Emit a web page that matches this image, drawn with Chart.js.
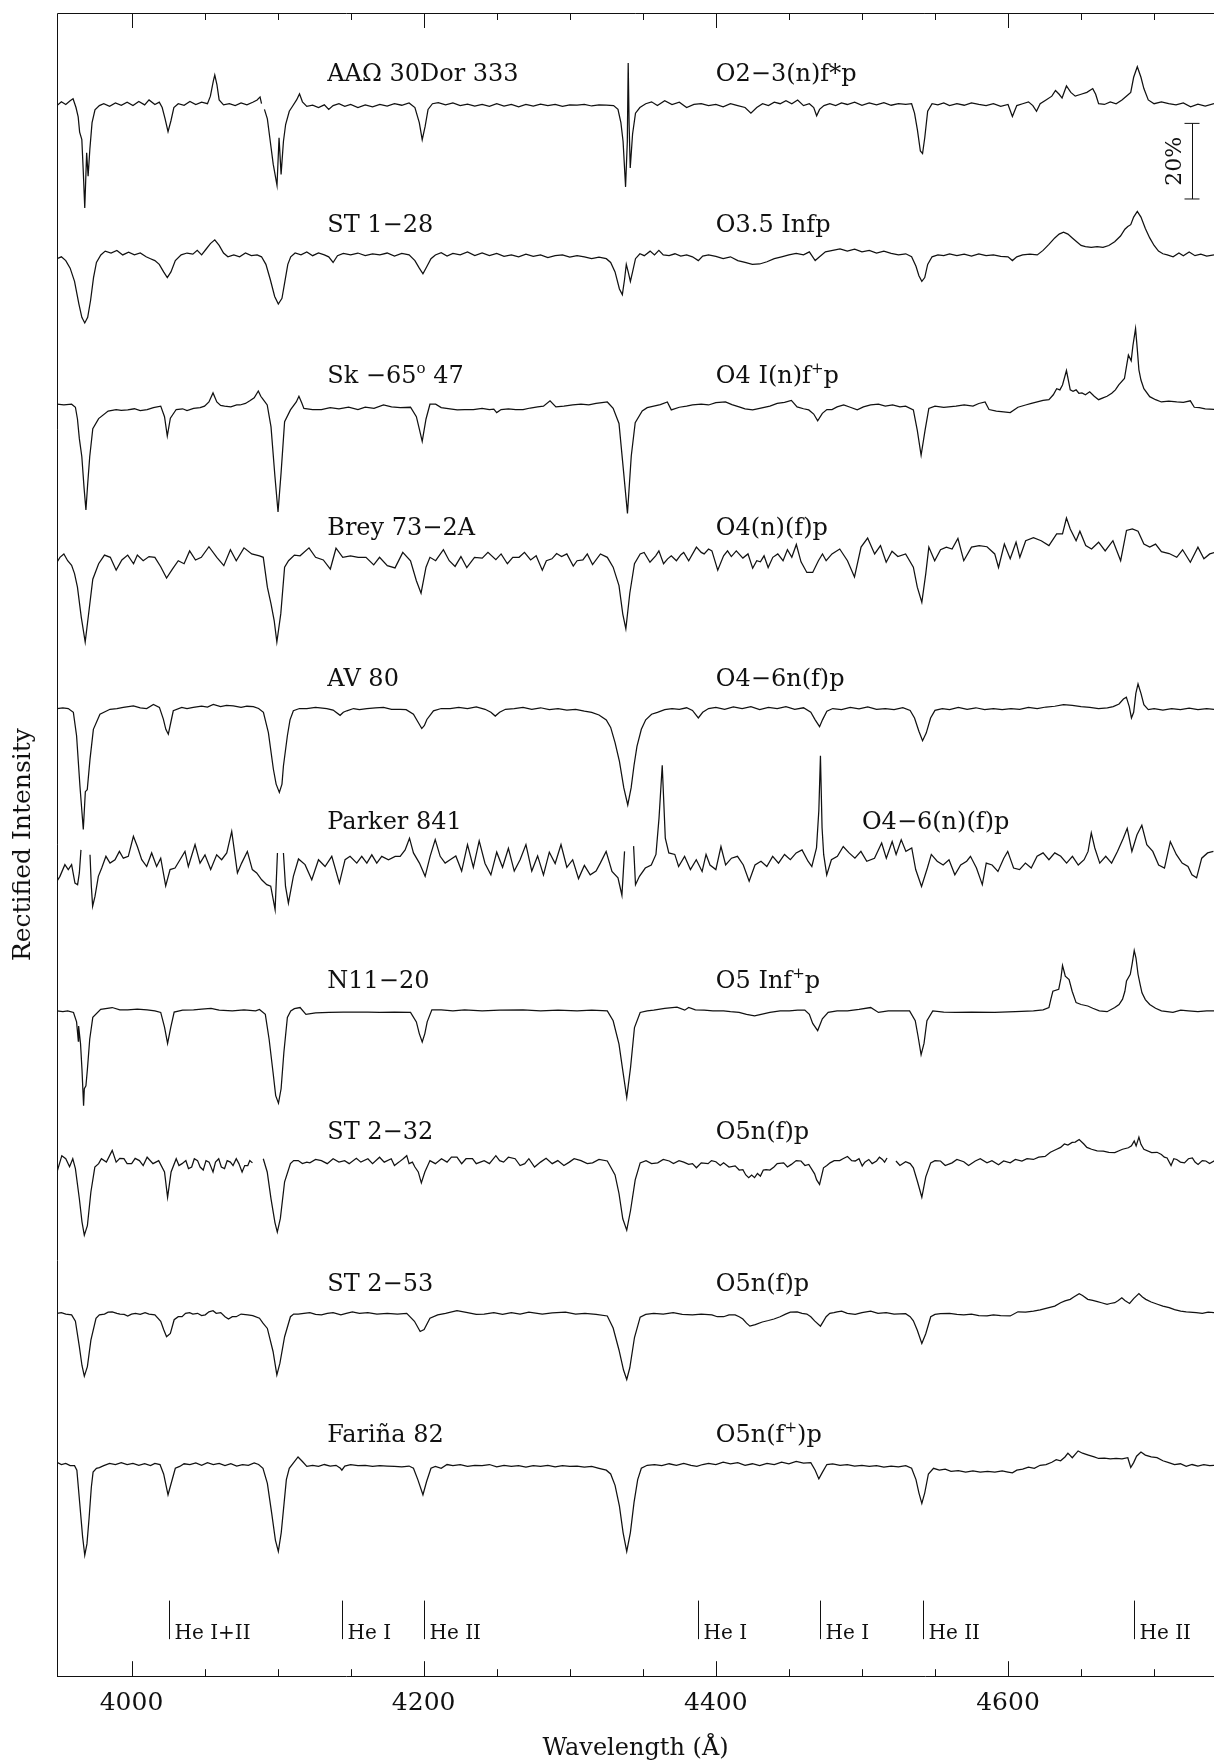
<!DOCTYPE html>
<html>
<head>
<meta charset="utf-8">
<script src="https://cdn.jsdelivr.net/npm/chart.js@4.4.1/dist/chart.umd.min.js"></script>
<style>
  html, body { margin: 0; padding: 0; background: #fff; overflow: hidden; }
  canvas { display: block; }
</style>
</head>
<body>
<canvas id="chart" width="1214" height="1763"></canvas>
<script>
// rectified spectra: flat lists of wavelength (A), flux; null = gap in the data
const aao333 = [3949,0.995, 3952,1.005, 3955,0.998, 3958,1.008, 3960,1.013, 3962,0.99, 3963.5,0.965, 3964.5,0.925, 3966,0.905, 3967,0.82, 3968,0.724, 3969.3,0.87, 3970.3,0.808, 3971.5,0.88, 3973,0.95, 3975,0.984, 3978,0.995, 3981,1.0, 3985,0.993, 3989,1.002, 3993,0.996, 3997,1.004, 4001,0.995, 4005,1.006, 4009,0.997, 4012,1.01, 4016,0.998, 4019,1.004, 4021,0.99, 4023,0.96, 4025,0.926, 4027,0.955, 4029,0.99, 4032,1.0, 4036,0.996, 4040,1.006, 4044,0.998, 4048,1.004, 4052,1.0, 4054,1.02, 4056,1.06, 4057,1.076, 4058.5,1.05, 4060,1.01, 4063,0.997, 4067,1.0, 4071,0.995, 4075,1.002, 4079,0.997, 4083,1.004, 4086,1.01, 4088,1.018, 4089,1.0, 4090,null, 4091,0.985, 4093,0.96, 4095,0.9, 4097,0.84, 4099.6,0.784, 4101,0.91, 4102.4,0.813, 4104,0.9, 4105.5,0.945, 4108,0.98, 4110,0.992, 4113,1.01, 4115,1.026, 4117,1.005, 4120,0.993, 4124,0.996, 4128,0.99, 4132,0.997, 4135,0.985, 4138,0.995, 4142,1.0, 4146,0.993, 4150,0.998, 4155,0.99, 4160,0.997, 4165,0.992, 4170,0.998, 4175,0.994, 4180,1.0, 4185,0.996, 4190,1.002, 4194,0.99, 4197,0.95, 4199,0.905, 4201,0.94, 4203,0.985, 4206,1.0, 4210,1.003, 4215,0.997, 4220,1.002, 4225,0.995, 4230,0.999, 4235,0.994, 4240,0.998, 4245,0.993, 4250,1.0, 4255,0.994, 4260,0.998, 4265,0.992, 4270,0.998, 4275,0.994, 4280,0.999, 4285,0.995, 4290,0.998, 4295,0.993, 4300,0.997, 4305,0.996, 4310,0.998, 4315,0.994, 4320,0.997, 4325,0.996, 4330,0.995, 4333,0.985, 4335,0.95, 4336.5,0.9, 4338.2,0.78, 4339.4,0.9, 4340,1.108, 4340.6,0.95, 4341.4,0.83, 4343,0.92, 4345,0.975, 4348,0.99, 4352,1.0, 4356,1.005, 4360,0.995, 4365,1.008, 4370,0.998, 4375,1.004, 4380,0.99, 4385,0.998, 4390,1.0, 4395,0.995, 4400,0.998, 4405,0.992, 4410,1.0, 4415,0.995, 4420,0.99, 4424,0.975, 4428,0.99, 4432,1.0, 4436,0.995, 4440,1.004, 4444,1.0, 4448,1.008, 4452,1.0, 4456,1.01, 4460,0.995, 4464,1.0, 4467,0.99, 4469,0.968, 4471,0.985, 4474,0.995, 4478,1.0, 4482,0.995, 4486,1.002, 4490,0.998, 4495,1.004, 4500,0.996, 4505,1.002, 4510,0.997, 4515,1.003, 4520,0.996, 4525,1.0, 4530,0.998, 4534,1.0, 4536,0.975, 4538,0.93, 4540,0.875, 4541.5,0.868, 4543,0.91, 4545,0.98, 4548,1.0, 4552,0.997, 4556,1.002, 4560,0.995, 4565,1.0, 4570,0.996, 4575,1.002, 4580,0.998, 4585,0.995, 4590,1.0, 4595,0.993, 4600,0.998, 4603,0.966, 4606,0.995, 4610,1.0, 4614,1.005, 4617,0.995, 4619.5,0.98, 4622,1.0, 4626,1.01, 4630,1.02, 4632.5,1.035, 4635,1.025, 4637,1.015, 4640,1.047, 4643,1.03, 4646,1.02, 4650,1.025, 4654,1.03, 4658,1.04, 4660,1.025, 4662,1.0, 4666,0.998, 4670,1.005, 4674,1.0, 4678,1.01, 4681,1.02, 4684,1.03, 4686,1.07, 4688.5,1.098, 4691,1.07, 4693,1.04, 4696,1.01, 4700,1.0, 4705,1.005, 4710,1.0, 4715,0.997, 4720,1.002, 4725,0.992, 4730,0.999, 4735,0.994, 4741,1.0];

const st128 = [3949,0.99, 3952,0.995, 3955,0.985, 3958,0.965, 3961,0.93, 3964,0.87, 3966,0.835, 3968,0.82, 3970,0.835, 3972,0.88, 3974,0.94, 3976,0.98, 3979,1.0, 3982,1.01, 3986,1.005, 3990,1.012, 3994,1.0, 3998,1.007, 4002,1.0, 4006,1.005, 4010,0.995, 4013,0.99, 4016,0.985, 4019,0.975, 4022,0.955, 4024.5,0.94, 4027,0.955, 4030,0.985, 4034,1.0, 4038,1.005, 4042,1.002, 4045,1.012, 4048,1.0, 4051,1.015, 4054,1.03, 4057,1.04, 4060,1.025, 4063,1.005, 4066,0.995, 4070,1.0, 4074,0.995, 4078,1.005, 4082,0.998, 4086,1.0, 4089,0.995, 4092,0.975, 4095,0.935, 4098,0.89, 4100.5,0.87, 4103,0.885, 4105,0.93, 4107,0.975, 4109,0.995, 4112,1.005, 4116,1.0, 4120,1.008, 4124,0.998, 4128,1.005, 4132,1.0, 4135,0.995, 4138,0.98, 4141,0.998, 4145,1.004, 4150,1.0, 4155,1.005, 4160,0.998, 4165,1.003, 4170,1.0, 4175,1.005, 4180,0.997, 4185,1.004, 4190,1.0, 4194,0.985, 4197,0.965, 4199.5,0.95, 4202,0.968, 4205,0.99, 4208,1.0, 4212,1.006, 4216,0.997, 4220,1.004, 4225,1.0, 4230,1.008, 4235,0.998, 4240,1.005, 4245,0.998, 4250,1.004, 4255,0.996, 4260,1.0, 4265,0.995, 4270,1.002, 4275,0.996, 4280,1.0, 4285,0.993, 4290,0.998, 4295,1.0, 4300,0.994, 4305,0.998, 4310,0.995, 4315,0.99, 4320,0.994, 4325,0.99, 4328,0.98, 4331,0.955, 4334,0.91, 4336,0.895, 4337.5,0.935, 4338.7,0.975, 4340,0.955, 4341.5,0.93, 4343,0.955, 4345,0.99, 4348,1.003, 4351,0.998, 4355,1.01, 4358,1.0, 4361,1.012, 4364,1.0, 4368,0.998, 4372,1.003, 4376,0.997, 4380,1.0, 4384,0.995, 4388,0.985, 4391,0.997, 4395,1.0, 4400,0.996, 4405,0.99, 4410,0.995, 4415,0.985, 4420,0.98, 4425,0.975, 4430,0.976, 4435,0.982, 4440,0.99, 4445,0.995, 4450,1.0, 4455,1.004, 4460,1.0, 4464,1.008, 4468,0.985, 4471,0.995, 4475,1.008, 4480,1.012, 4485,1.016, 4490,1.01, 4495,1.015, 4500,1.008, 4505,1.012, 4510,1.005, 4515,1.01, 4520,1.004, 4525,1.0, 4530,1.003, 4534,0.995, 4537,0.97, 4539,0.945, 4541,0.93, 4543,0.94, 4545,0.975, 4548,0.995, 4552,1.0, 4556,0.998, 4560,1.003, 4565,0.998, 4570,1.002, 4575,0.997, 4580,1.003, 4585,0.998, 4590,1.0, 4595,0.996, 4600,0.995, 4603,0.985, 4606,0.995, 4610,1.0, 4615,1.002, 4620,1.0, 4624,1.012, 4628,1.028, 4632,1.045, 4635,1.055, 4638,1.06, 4641,1.055, 4644,1.045, 4647,1.035, 4650,1.025, 4653,1.022, 4657,1.02, 4661,1.022, 4665,1.02, 4669,1.025, 4673,1.035, 4677,1.05, 4680,1.068, 4682,1.075, 4684,1.08, 4686,1.1, 4688.5,1.115, 4691,1.1, 4694,1.07, 4697,1.045, 4700,1.025, 4703,1.01, 4706,1.003, 4709,1.0, 4713,0.995, 4717,1.005, 4720,0.998, 4724,1.008, 4728,0.998, 4732,1.002, 4736,0.997, 4741,1.0];

const sk6547 = [3949,1.005, 3953.7,1.003, 3959,1.005, 3961.6,0.997, 3963,0.966, 3964.3,0.914, 3966,0.866, 3967.5,0.785, 3968.8,0.725, 3970,0.794, 3971.4,0.866, 3973.5,0.94, 3977.5,0.967, 3984,0.987, 3989.5,0.991, 3993,0.989, 3997.4,0.99, 4002,0.993, 4006,0.988, 4010.7,0.991, 4015,0.996, 4020,1.0, 4022.6,0.972, 4024.5,0.921, 4026.6,0.968, 4030.6,0.991, 4035,0.993, 4038,0.988, 4042.5,0.994, 4047,0.996, 4050,1.0, 4053,1.011, 4055.8,1.035, 4058.4,1.011, 4061,1.002, 4063.7,1.0, 4068,0.998, 4072,1.003, 4074.3,1.003, 4078,1.007, 4081,1.014, 4084,1.022, 4086.8,1.04, 4088.5,1.026, 4090.2,1.017, 4092.9,1.003, 4095.5,0.945, 4098.2,0.813, 4100.3,0.72, 4102.4,0.824, 4104.8,0.959, 4108.8,0.99, 4112.8,1.011, 4114.6,1.026, 4116.5,1.009, 4118,0.994, 4124,0.991, 4130,0.991, 4136,0.996, 4142,0.993, 4148.6,0.997, 4155,0.991, 4160,0.997, 4166,0.994, 4172.5,1.003, 4178,0.998, 4184,0.996, 4191,0.997, 4195,0.972, 4197,0.94, 4199,0.907, 4201.6,0.966, 4204.3,1.005, 4208.2,1.005, 4212,0.996, 4218,0.993, 4223,0.99, 4228,0.991, 4234,0.991, 4240,0.994, 4245,0.991, 4248,0.992, 4250,0.983, 4253,0.991, 4258,0.993, 4263,0.991, 4268,0.991, 4273,0.995, 4278,0.998, 4282,1.0, 4286.5,1.014, 4290.5,0.998, 4296,1.0, 4302,1.003, 4307.7,1.005, 4313,1.003, 4318,1.007, 4322,1.009, 4325.7,1.011, 4329.7,0.994, 4333.7,0.954, 4336.8,0.828, 4339.5,0.716, 4342.1,0.868, 4344.8,0.956, 4349.6,0.987, 4353,0.996, 4357.5,1.0, 4362,1.004, 4366.8,1.011, 4369.5,0.99, 4375,0.997, 4380,1.0, 4384,1.003, 4390,1.005, 4395,1.003, 4400,1.009, 4406.6,1.011, 4411,1.004, 4415.9,0.998, 4420,0.993, 4425.2,0.99, 4430,0.994, 4437,1.0, 4442,1.007, 4447,1.01, 4451.7,1.015, 4455.6,0.998, 4460,0.993, 4463.6,0.99, 4467,0.979, 4469.7,0.961, 4472.9,0.981, 4476,0.991, 4479.5,0.991, 4483,0.998, 4487.5,1.003, 4492,0.997, 4496.8,0.99, 4501,0.998, 4506,1.003, 4511.3,1.005, 4516,1.0, 4521,1.003, 4526,0.998, 4529.9,1.0, 4535.2,0.99, 4537.9,0.936, 4540.5,0.87, 4543.2,0.936, 4545.8,0.994, 4550,1.0, 4556,0.997, 4564.4,1.0, 4570,1.003, 4576,1.0, 4580,1.007, 4584.3,1.011, 4587,0.991, 4592,0.987, 4597,0.985, 4601.5,0.983, 4606.8,0.997, 4612,1.003, 4616,1.007, 4620,1.011, 4624,1.015, 4628,1.017, 4631,1.03, 4633.3,1.046, 4635.5,1.043, 4637.3,1.056, 4640,1.094, 4642.6,1.043, 4644.5,1.039, 4646.6,1.043, 4648.5,1.034, 4650.6,1.035, 4653,1.03, 4655.9,1.038, 4659,1.026, 4662,1.017, 4665,1.022, 4667.8,1.026, 4671,1.034, 4673.5,1.043, 4675.8,1.056, 4679.7,1.073, 4681,1.103, 4682.4,1.135, 4684.3,1.12, 4685.5,1.16, 4687.3,1.205, 4688.5,1.15, 4689.6,1.096, 4691,1.069, 4693,1.046, 4697,1.025, 4701,1.017, 4705,1.011, 4710,1.013, 4715.5,1.011, 4720,1.01, 4724.8,1.014, 4727.5,0.997, 4731,0.996, 4735,0.993, 4741.5,0.991];

const brey73 = [3949,0.987, 3951,1.0, 3953.7,1.009, 3956.3,0.991, 3959,0.979, 3961,0.957, 3963,0.921, 3965.6,0.842, 3968.3,0.776, 3971,0.862, 3973.5,0.942, 3977.5,0.983, 3981.5,1.006, 3985.5,1.0, 3989.5,0.966, 3993.4,0.993, 3997.4,1.006, 4001.4,0.983, 4004,1.006, 4008,0.991, 4012,1.002, 4016,1.0, 4020,0.975, 4024,0.945, 4028,0.969, 4032,0.991, 4036,0.983, 4039.8,1.017, 4043.8,0.993, 4047.8,1.0, 4053,1.028, 4058.4,1.0, 4063.2,0.978, 4067.7,1.02, 4071.7,0.991, 4077,1.025, 4082.3,1.009, 4087.6,1.004, 4090.2,1.0, 4093,0.921, 4095.5,0.877, 4097.7,0.832, 4099.5,0.776, 4102.2,0.851, 4104.8,0.974, 4107.5,0.991, 4111.5,1.006, 4115.4,1.004, 4121.5,1.025, 4126,1.0, 4131.3,0.993, 4136.1,0.969, 4140,1.024, 4144.6,1.0, 4149.9,1.004, 4155.2,1.0, 4160.5,1.0, 4165.8,0.98, 4169.8,1.0, 4175.1,0.978, 4180.4,0.972, 4185.7,1.013, 4191,0.991, 4195,0.938, 4198.2,0.905, 4201.6,0.974, 4204.3,1.0, 4208.2,0.991, 4213.5,1.02, 4217.5,0.991, 4221.5,0.976, 4225.5,1.002, 4229.5,0.973, 4234.8,1.0, 4240.1,0.998, 4244,1.013, 4249.4,0.994, 4253,1.009, 4257.3,0.983, 4261,1.0, 4265.3,1.0, 4269,1.013, 4273.2,0.993, 4277,1.004, 4281.2,0.966, 4284,0.991, 4287.8,0.996, 4291,1.01, 4294.4,1.002, 4298,1.009, 4302.4,0.977, 4305,0.991, 4309,0.993, 4312,1.009, 4315.6,0.981, 4321,1.009, 4325.7,1.0, 4329.7,0.974, 4333.7,0.925, 4336.3,0.85, 4338.4,0.811, 4341.1,0.905, 4344.3,0.983, 4348.2,1.009, 4350.9,1.013, 4354.9,0.987, 4358.8,1.004, 4361,1.017, 4364.2,0.983, 4367,0.996, 4369.5,1.004, 4373,0.991, 4376.1,1.007, 4378,1.013, 4381.4,0.991, 4386.7,1.027, 4390,1.013, 4392,1.009, 4395,1.022, 4397.3,1.017, 4401.3,0.966, 4405.3,1.004, 4408,1.017, 4410.6,1.002, 4414,1.017, 4418.5,0.998, 4422,1.009, 4425.2,0.971, 4428,0.991, 4430.5,0.988, 4433,1.004, 4435.8,0.973, 4439,1.0, 4442.4,1.009, 4446,0.991, 4449,1.02, 4452,1.0, 4455.1,1.034, 4458.3,0.988, 4462.3,0.96, 4466.3,0.96, 4470.2,0.991, 4473,1.009, 4475.5,0.991, 4479.5,1.009, 4484.8,1.022, 4490.1,0.991, 4494.9,0.948, 4499.4,1.027, 4503.9,1.051, 4508.7,1.009, 4512.7,1.031, 4516.6,0.987, 4520.6,1.016, 4524.6,1.002, 4529.9,1.009, 4535.2,0.974, 4537.9,0.921, 4541,0.881, 4543.7,0.957, 4545.8,1.027, 4549.8,0.991, 4553.8,1.02, 4557.8,1.027, 4561.7,1.022, 4565.7,1.05, 4569.7,0.991, 4575,1.027, 4580.3,1.031, 4585.6,1.028, 4590.9,1.009, 4593.5,0.973, 4597.5,1.035, 4601.5,0.996, 4605.5,1.04, 4608.1,1.0, 4612.1,1.044, 4617.4,1.052, 4622.7,1.044, 4628,1.031, 4633.3,1.062, 4637.3,1.062, 4640,1.104, 4642.6,1.075, 4646.6,1.044, 4649.2,1.069, 4653.2,1.031, 4657.2,1.022, 4662,1.04, 4666.5,1.017, 4671.8,1.044, 4677.1,0.991, 4681.1,1.071, 4685.1,1.075, 4689,1.069, 4693,1.035, 4697,1.027, 4701,1.035, 4705,1.015, 4710.3,1.01, 4715.5,1.0, 4719.5,1.02, 4724.8,0.987, 4730,1.027, 4734.1,0.996, 4738.1,1.009, 4741.5,1.013];

const av80 = [3949,1.0, 3953,1.002, 3956.7,1.0, 3960.2,0.99, 3962.4,0.928, 3964.7,0.795, 3966.1,0.725, 3967,0.68, 3968.4,0.78, 3969.7,0.785, 3971.6,0.866, 3973.9,0.945, 3978.4,0.985, 3985.3,0.998, 3990,1.0, 3994.4,1.003, 4001.3,1.007, 4006,1.002, 4010.4,1.0, 4015,1.011, 4019.1,1.003, 4021.8,0.972, 4023.5,0.945, 4025.2,0.932, 4027,0.965, 4028.6,0.994, 4034.4,1.003, 4038,1.0, 4042.3,1.003, 4048,1.006, 4052,1.004, 4056,1.011, 4061,1.005, 4065,1.008, 4069.7,1.007, 4075,1.003, 4079,1.006, 4083.4,1.005, 4087,1.0, 4090.3,0.99, 4093.7,0.936, 4097.1,0.84, 4099,0.8, 4101.2,0.778, 4103,0.8, 4104,0.848, 4106.7,0.928, 4108.5,0.97, 4110.8,0.994, 4115,1.0, 4120,1.0, 4126,1.003, 4133.7,1.0, 4138,0.996, 4142.8,0.982, 4145,0.99, 4147.4,0.994, 4152,1.0, 4156,0.997, 4161.1,1.0, 4167,1.002, 4172.5,1.003, 4178,0.998, 4183.9,0.998, 4188,0.997, 4193,0.985, 4196,0.965, 4198.7,0.947, 4200.5,0.955, 4202.2,0.971, 4206.7,0.994, 4212,1.0, 4218.1,1.0, 4224,1.003, 4230,1.0, 4236,1.004, 4242,0.998, 4246,0.99, 4249,0.98, 4252,0.99, 4256,0.998, 4262,1.0, 4268,1.003, 4274,0.998, 4280,1.002, 4286,0.997, 4292,1.0, 4298,0.996, 4304,0.998, 4310,0.993, 4315,0.99, 4320,0.983, 4325,0.97, 4328,0.95, 4331,0.91, 4334,0.86, 4337,0.79, 4339.7,0.745, 4342,0.79, 4344,0.85, 4346,0.9, 4349,0.945, 4352,0.97, 4356,0.985, 4360,0.99, 4365,0.997, 4370,1.0, 4375,0.998, 4380,1.002, 4384,0.995, 4388,0.975, 4391,0.99, 4395,1.0, 4400,1.003, 4406,0.998, 4412,1.004, 4418,1.0, 4424,1.005, 4430,0.997, 4436,1.003, 4442,1.0, 4448,1.005, 4454,0.998, 4460,1.002, 4465,0.99, 4468,0.97, 4471,0.952, 4473,0.97, 4476,0.993, 4480,1.0, 4486,0.997, 4492,1.003, 4498,0.999, 4504,1.004, 4510,0.998, 4516,1.0, 4522,0.997, 4528,1.002, 4533,0.995, 4536,0.975, 4539,0.94, 4541.5,0.915, 4544,0.935, 4547,0.975, 4550,0.995, 4555,1.0, 4560,0.997, 4566,1.003, 4572,0.998, 4578,1.002, 4584,0.997, 4590,1.0, 4596,0.997, 4602,1.0, 4608,0.998, 4614,1.003, 4620,1.0, 4626,1.004, 4632,1.006, 4638,1.01, 4644,1.008, 4650,1.005, 4656,1.003, 4662,1.0, 4668,1.002, 4672,1.005, 4676,1.012, 4679,1.025, 4681,1.03, 4683,1.005, 4684.5,0.975, 4686,0.99, 4687.5,1.04, 4689,1.065, 4691,1.04, 4693,1.01, 4696,0.997, 4700,1.0, 4706,0.996, 4712,1.0, 4718,0.997, 4724,1.001, 4730,0.997, 4736,1.0, 4741,0.998];

const parker841 = [3949,0.943, 3951,0.956, 3954.4,0.987, 3956.7,0.974, 3959,0.987, 3961.3,0.938, 3963.1,0.934, 3964.3,0.965, 3965.4,1.026, 3966,null, 3971.6,1.013, 3972.5,0.93, 3973.4,0.877, 3975,0.903, 3977.3,0.956, 3979.6,0.978, 3982.5,1.009, 3985.3,0.991, 3988.7,1.0, 3991.7,1.022, 3994.4,1.004, 3997.8,1.009, 4001.3,1.062, 4004,1.035, 4007,1.0, 4010.4,0.982, 4013.8,1.018, 4017.2,0.982, 4020,1.004, 4023.4,0.931, 4026.4,0.974, 4029.8,0.978, 4033.2,1.0, 4036.6,1.022, 4038.9,0.982, 4043.5,1.04, 4046.9,0.991, 4050.3,1.013, 4054.2,0.974, 4058.3,1.013, 4061.7,1.0, 4065.2,1.018, 4068.6,1.075, 4072.5,0.965, 4075.4,0.991, 4079.3,1.022, 4082.7,0.974, 4085.7,0.965, 4089.1,0.947, 4092.6,0.934, 4095.3,0.93, 4098.3,0.868, 4099.9,1.018, 4101,null, 4104,1.018, 4105.4,0.93, 4107.4,0.885, 4110.8,0.956, 4114.3,1.002, 4118.8,0.987, 4123.4,0.947, 4128,1.0, 4132.5,0.982, 4137.1,1.009, 4142.3,0.938, 4146.2,1.0, 4149.6,1.009, 4154.2,0.991, 4157.6,1.009, 4161.1,0.991, 4164.5,1.013, 4167.9,0.991, 4171.3,1.009, 4175.9,1.0, 4180.5,1.009, 4183.9,1.009, 4187.3,1.026, 4190.3,1.057, 4193,1.018, 4197.1,0.991, 4201,0.956, 4204.4,1.009, 4207.9,1.053, 4211.3,1.009, 4214.7,0.991, 4218.1,1.0, 4222,1.01, 4226,0.97, 4230,1.04, 4234,0.98, 4238,1.05, 4242,0.99, 4246,0.96, 4250,1.02, 4254,0.98, 4258,1.03, 4262,0.97, 4266,1.0, 4270,1.04, 4274,0.97, 4278,1.01, 4282,0.96, 4286,1.02, 4290,0.99, 4294,1.04, 4298,0.98, 4302,1.0, 4306,0.95, 4310,0.985, 4314,0.96, 4318,0.97, 4320.9,0.991, 4324.9,1.022, 4328.9,0.969, 4333,0.952, 4335.7,0.906, 4337.5,1.022, 4338.5,null, 4343.7,1.036, 4345,0.934, 4347.7,0.956, 4351.7,0.978, 4355.8,0.986, 4359,1.014, 4361.1,1.11, 4363.3,1.25, 4365.4,1.057, 4367.8,1.018, 4371.9,1.014, 4374.5,0.982, 4378.6,1.009, 4382.6,0.974, 4386.6,1.0, 4390.6,0.969, 4393.3,1.014, 4396,0.986, 4400,0.974, 4403.5,1.035, 4406.7,0.986, 4410.7,1.004, 4414.8,1.009, 4418.8,0.986, 4422.8,0.943, 4426.8,0.986, 4430.9,0.996, 4434.9,0.982, 4438.9,1.009, 4442.9,0.991, 4447,1.014, 4451,1.0, 4455,1.018, 4459,1.026, 4463.1,0.996, 4465.7,0.982, 4468.9,1.031, 4470.5,1.13, 4471.6,1.275, 4472.7,1.085, 4473.8,1.014, 4475.9,0.96, 4479.1,1.0, 4483.2,1.009, 4487.2,1.035, 4491.2,1.018, 4495.2,1.004, 4499.3,1.022, 4503.3,0.996, 4508.6,1.004, 4513.5,1.044, 4516.7,1.004, 4520.7,1.048, 4523.4,1.014, 4526.9,1.053, 4530.1,1.022, 4534.1,1.031, 4536.8,0.974, 4540.8,0.929, 4544.8,0.978, 4547.5,1.014, 4551.5,0.996, 4555.6,0.986, 4559.6,1.0, 4563.6,0.96, 4567.6,0.986, 4571.7,0.996, 4574.3,1.009, 4578.4,0.978, 4582.4,0.934, 4585.1,0.991, 4589.1,0.986, 4593.1,0.969, 4597.1,1.004, 4599.8,1.022, 4603.8,0.978, 4607.9,0.974, 4611.9,0.991, 4615.9,0.978, 4619.9,1.009, 4624,1.018, 4628,1.0, 4632,1.018, 4636.1,1.009, 4640.1,0.991, 4644.1,1.009, 4648.1,0.986, 4652.1,1.0, 4654.8,1.022, 4657,1.071, 4659.4,1.031, 4662.8,0.991, 4666.9,1.009, 4670.9,0.991, 4674.9,1.022, 4678.9,1.057, 4681.6,1.083, 4684.8,1.022, 4688.3,1.066, 4691.6,1.091, 4695,1.04, 4699.1,1.022, 4703.1,0.986, 4707.1,0.978, 4711.1,1.048, 4715.2,1.014, 4719.2,0.991, 4723.2,0.982, 4725.9,0.96, 4729.1,0.952, 4732.6,1.004, 4736.6,1.018, 4740.6,1.022];

const n1120 = [3949,1.0, 3953,0.998, 3956.3,1.0, 3960.3,0.996, 3962.4,0.971, 3963.6,0.92, 3963.8,0.96, 3965.1,0.914, 3966.1,0.845, 3967.2,0.749, 3967.7,0.794, 3968.8,0.802, 3969.8,0.845, 3971.4,0.925, 3973.5,0.983, 3978.9,1.004, 3986.8,1.009, 3992,1.003, 3997.4,1.003, 4004,1.005, 4010.7,1.003, 4016,1.0, 4020,0.996, 4022.6,0.957, 4024.7,0.914, 4026.9,0.957, 4029.2,0.997, 4035,1.002, 4042.5,1.003, 4048,1.005, 4054.4,1.007, 4060,1.002, 4069,1.0, 4077,1.003, 4085,1.0, 4087.6,1.004, 4091.6,0.991, 4094.2,0.925, 4096.9,0.837, 4098.7,0.776, 4100.6,0.756, 4102.4,0.794, 4104.3,0.89, 4106.7,0.983, 4109,1.0, 4111.5,1.006, 4115.4,1.009, 4119.4,0.991, 4126,0.995, 4135.3,0.996, 4145,0.997, 4152,0.997, 4161.8,0.997, 4170,0.996, 4180,0.997, 4191,0.996, 4195,0.971, 4197,0.94, 4199,0.918, 4200.8,0.94, 4202.4,0.971, 4205.6,1.003, 4212,1.003, 4220,1.0, 4228,1.003, 4240,1.0, 4252,1.002, 4268,1.003, 4280,1.0, 4292,1.002, 4305,1.0, 4315,1.002, 4325.7,1.0, 4329.7,0.974, 4333.7,0.912, 4336.3,0.842, 4339,0.771, 4341.6,0.85, 4344.3,0.956, 4348.2,0.996, 4353,1.0, 4357.5,1.002, 4365,1.007, 4373.4,1.01, 4378.7,1.002, 4381.4,1.009, 4386,1.003, 4392,1.002, 4398,1.0, 4405.3,1.0, 4410,0.998, 4415.9,0.996, 4421,0.991, 4426.5,0.987, 4431,0.991, 4437,0.996, 4444,1.0, 4450.3,1.0, 4456,1.002, 4460.9,1.002, 4464,0.991, 4466.3,0.967, 4469.7,0.948, 4472.9,0.979, 4476.9,0.996, 4483,1.0, 4490.1,1.0, 4498,1.004, 4506,1.009, 4511.3,0.996, 4518,1.0, 4525,1.0, 4532.6,1.0, 4536.5,0.974, 4538.5,0.931, 4540.5,0.884, 4542.5,0.914, 4544.5,0.974, 4548.5,1.0, 4556,0.997, 4564.4,0.996, 4575,0.997, 4590.9,0.996, 4605,0.998, 4617.4,1.0, 4624,1.003, 4628,1.009, 4629.5,1.034, 4630.7,1.052, 4634.7,1.057, 4636.2,1.086, 4637.3,1.12, 4638.5,1.103, 4639.2,1.092, 4641.8,1.083, 4643.9,1.052, 4646.6,1.022, 4650,1.017, 4654.6,1.013, 4658,1.007, 4662.5,1.0, 4667.8,0.998, 4673.1,1.009, 4676,1.017, 4678.4,1.031, 4680,1.052, 4681.1,1.079, 4683.7,1.097, 4685,1.125, 4686.4,1.16, 4687.6,1.14, 4689,1.097, 4690.5,1.069, 4691.7,1.048, 4694,1.03, 4697,1.017, 4701,1.007, 4705,1.0, 4712.9,0.996, 4718.2,1.002, 4723.5,1.0, 4730,0.998, 4736,1.0, 4741.5,1.0];

const st232 = [3949,0.974, 3952.3,1.017, 3955,1.009, 3957.6,0.988, 3959.8,1.009, 3961.6,0.983, 3964.3,0.903, 3966.1,0.842, 3967.7,0.807, 3969.8,0.832, 3972.2,0.921, 3974.9,0.987, 3977.5,0.996, 3979.4,1.009, 3982.8,1.0, 3986.8,1.031, 3989.5,1.0, 3992,1.01, 3994.8,1.009, 3997,0.996, 4000.1,0.996, 4002.5,1.01, 4005.4,1.004, 4008,0.991, 4010.7,1.013, 4014.7,0.996, 4018.6,1.004, 4022.6,0.974, 4024.7,0.907, 4027.1,0.974, 4030.6,1.009, 4032.5,0.991, 4034.6,0.996, 4037.2,1.004, 4039,0.983, 4041.2,0.987, 4043,1.009, 4045.2,1.004, 4047,0.987, 4049.1,0.979, 4051,1.004, 4053.1,1.0, 4055.8,0.974, 4057.5,1.0, 4059.7,1.009, 4061.5,0.987, 4063.7,0.983, 4065.5,1.004, 4067.7,1.0, 4069.5,0.991, 4071.7,1.009, 4073.5,0.996, 4075.7,0.974, 4077.5,0.991, 4079.6,0.991, 4081,1.004, 4082.8,0.998, 4084,null, 4090.2,1.009, 4092.9,0.974, 4095.5,0.903, 4098.2,0.84, 4099.8,0.815, 4101.9,0.851, 4104.8,0.948, 4108.8,0.996, 4111,1.004, 4114.1,1.004, 4117,0.996, 4120,1.0, 4122.1,0.998, 4126,1.007, 4130,1.004, 4134,0.996, 4138,1.009, 4142,1.0, 4145.9,1.004, 4149,0.996, 4153.9,1.01, 4157,1.0, 4161.8,1.009, 4165,0.996, 4169.8,1.013, 4173,1.0, 4177.8,1.009, 4180,0.991, 4183.1,1.0, 4186,1.009, 4188.4,1.017, 4190,0.996, 4192.3,1.0, 4194,0.987, 4196.3,0.974, 4198.4,0.945, 4200.8,0.974, 4204.3,1.004, 4208,0.996, 4212.2,1.009, 4216,1.0, 4219,1.013, 4222.8,1.013, 4226,0.996, 4229,1.009, 4233.4,1.009, 4236,0.996, 4241.4,1.004, 4245,0.996, 4249.4,1.017, 4252,1.004, 4254.7,1.0, 4258,1.013, 4262.6,1.009, 4266,0.991, 4269.2,0.996, 4272,1.009, 4275.9,0.987, 4280,1.0, 4283.8,1.01, 4288,0.996, 4291.8,1.004, 4296,0.991, 4299.7,1.0, 4303,1.009, 4307.7,1.004, 4312,0.996, 4315.6,0.998, 4320,1.007, 4325.7,1.003, 4328,0.987, 4331,0.966, 4333.7,0.917, 4336.3,0.85, 4339,0.82, 4341.6,0.872, 4344.8,0.953, 4348.2,0.998, 4352.2,1.004, 4356,0.996, 4360.2,0.998, 4364,1.007, 4368.1,1.003, 4371,0.996, 4374.8,1.004, 4378,1.0, 4381.4,0.994, 4384,0.996, 4386.7,0.985, 4390,0.998, 4394.7,0.996, 4397,1.004, 4400,1.001, 4403,0.991, 4405.3,0.998, 4409,0.987, 4413.2,0.99, 4416,0.979, 4418.5,0.98, 4420.5,0.966, 4422.5,0.959, 4424.5,0.966, 4426.5,0.959, 4428.5,0.97, 4430.5,0.963, 4432.5,0.979, 4434.4,0.98, 4437,0.979, 4439.8,0.987, 4442,0.996, 4446.4,0.998, 4449,0.987, 4451.7,0.994, 4455,1.004, 4458.3,1.003, 4461,0.991, 4463.6,0.994, 4467.6,0.969, 4469,0.953, 4471,0.941, 4473.7,0.985, 4476,0.991, 4478.2,0.998, 4481,1.004, 4484.8,1.004, 4487,1.009, 4490.1,1.015, 4493,1.004, 4495.4,1.003, 4498,1.009, 4500.2,0.99, 4502,1.0, 4504.7,1.007, 4507,0.996, 4510,1.003, 4512,1.013, 4514,1.007, 4515.5,1.0, 4517.2,1.011, 4518,null, 4523.3,1.003, 4526,0.991, 4529.9,1.001, 4533,0.996, 4535.2,0.985, 4537.9,0.95, 4541,0.907, 4543.7,0.961, 4547.1,0.998, 4550,1.004, 4553.8,1.003, 4557,0.991, 4561.7,0.998, 4565,1.007, 4569.7,1.001, 4573,0.991, 4577.6,1.003, 4581,1.009, 4585.6,0.998, 4589,1.004, 4593.5,0.993, 4597,1.003, 4601.5,0.998, 4605,1.007, 4609.5,1.003, 4613,1.009, 4617.4,1.007, 4621,1.013, 4625.4,1.015, 4629,1.026, 4633.3,1.034, 4636,1.039, 4638.6,1.048, 4641,1.045, 4643.9,1.052, 4646,1.053, 4648.7,1.06, 4651.9,1.048, 4654,1.039, 4657.2,1.034, 4661,1.03, 4665.2,1.029, 4669,1.026, 4673.1,1.025, 4676,1.03, 4678.4,1.034, 4682.4,1.038, 4684.5,1.043, 4686.4,1.056, 4687.7,1.043, 4689.6,1.066, 4691,1.047, 4693,1.034, 4698.3,1.025, 4702,1.026, 4705,1.02, 4707,1.013, 4708.9,1.011, 4711.6,0.991, 4713.5,1.009, 4715.5,1.007, 4718,1.0, 4720.8,0.998, 4723.5,1.009, 4726.2,1.011, 4728,1.0, 4730.1,0.994, 4733,1.004, 4735.4,1.003, 4738,0.996, 4741.5,1.004];

const st253 = [3949,1.0, 3952,1.002, 3955,0.998, 3959,0.996, 3961.6,0.979, 3964.3,0.912, 3966.1,0.862, 3967.7,0.834, 3969.8,0.859, 3972.2,0.929, 3975.7,0.987, 3978,0.996, 3981.5,0.998, 3984,1.003, 3986.8,1.004, 3990,1.0, 3992.1,0.998, 3995,0.997, 3997.4,0.993, 4000,0.998, 4002.7,1.0, 4006,0.997, 4009.3,1.002, 4012,0.998, 4016,0.996, 4020,0.979, 4022,0.957, 4024,0.938, 4026.6,0.947, 4029.2,0.983, 4032,0.991, 4034.6,0.991, 4037,1.0, 4039.8,1.002, 4042,0.998, 4045.2,1.0, 4048,0.994, 4050.5,0.996, 4053,1.004, 4055.8,1.007, 4058,1.0, 4061.1,1.002, 4064,0.991, 4066.4,0.985, 4069,0.991, 4071.7,0.991, 4075,0.998, 4079.6,0.996, 4083,0.994, 4087.6,0.987, 4090,0.974, 4093,0.96, 4096.9,0.899, 4099.5,0.837, 4101.6,0.868, 4104.8,0.938, 4108.8,0.991, 4111,0.998, 4114.1,0.998, 4118,1.0, 4122.1,1.002, 4126,0.997, 4130,0.996, 4134,1.0, 4138,1.002, 4143.3,0.996, 4147,1.0, 4151.2,1.004, 4156,1.0, 4161.8,1.002, 4168,0.998, 4175.1,1.0, 4182,0.998, 4188.4,1.0, 4193.7,0.979, 4197.6,0.952, 4200.3,0.957, 4204.3,0.987, 4209.6,0.996, 4215,1.0, 4222.8,1.007, 4230,1.002, 4236,0.997, 4241.4,0.998, 4248,1.002, 4254,0.997, 4260,1.002, 4266,0.998, 4272,1.003, 4281.2,0.998, 4288,1.001, 4297.1,1.003, 4304,0.998, 4310.4,1.0, 4318,0.997, 4325.7,0.993, 4329.7,0.961, 4333.7,0.903, 4336.8,0.85, 4339,0.825, 4341.1,0.856, 4344.3,0.936, 4348.2,0.99, 4352,0.997, 4357.5,1.0, 4364,0.998, 4370.8,1.002, 4377,0.997, 4384,0.996, 4390,0.998, 4397.3,0.996, 4401,0.991, 4405.3,0.991, 4409,0.996, 4413.2,0.996, 4416,0.991, 4418.5,0.985, 4421,0.974, 4423.3,0.966, 4427,0.97, 4431.8,0.977, 4436,0.981, 4439.8,0.985, 4444,0.991, 4447.7,0.998, 4451,1.003, 4455.7,1.004, 4459,1.0, 4462.3,0.998, 4465,0.991, 4467.6,0.98, 4471.6,0.966, 4473.5,0.978, 4475.5,0.991, 4478,1.0, 4480.8,1.002, 4483,1.004, 4486.1,1.006, 4490,1.0, 4495.4,0.997, 4500,1.002, 4506,1.006, 4511,1.0, 4516.6,1.002, 4522,0.998, 4529.9,0.999, 4533,0.991, 4535.2,0.98, 4537.9,0.955, 4541,0.92, 4543.7,0.946, 4547.1,0.991, 4550,0.997, 4553.8,0.999, 4560,1.0, 4565,0.997, 4569.7,0.996, 4575,0.998, 4580,0.994, 4585.6,0.993, 4590,0.996, 4595,0.994, 4601.5,0.993, 4606.8,1.004, 4612,1.003, 4617.4,1.006, 4622,1.009, 4626,1.013, 4628,1.015, 4632,1.019, 4636,1.028, 4639,1.033, 4642.6,1.037, 4645,1.043, 4648.7,1.052, 4651,1.047, 4654.6,1.037, 4658,1.034, 4661.2,1.031, 4664,1.028, 4667.8,1.024, 4670,1.026, 4673.1,1.028, 4675.5,1.034, 4677.9,1.041, 4680,1.034, 4683.2,1.026, 4686,1.039, 4689.6,1.052, 4692,1.043, 4694.3,1.037, 4698,1.03, 4702.3,1.024, 4706,1.019, 4710.3,1.015, 4714,1.01, 4718.2,1.006, 4722,1.004, 4728.8,1.002, 4733,1.0, 4737,1.003, 4741.5,1.002];

const farina82 = [3949,1.006, 3952,1.0, 3955,1.003, 3958,0.997, 3961,0.997, 3962.6,0.985, 3964.5,0.9, 3966.5,0.81, 3968,0.76, 3969.5,0.79, 3971,0.86, 3972.5,0.94, 3973.7,0.98, 3976,0.99, 3978,0.992, 3981,0.997, 3985,1.003, 3989,1.0, 3993,1.005, 3997,1.0, 4001,1.003, 4005,0.998, 4009,1.002, 4013,0.997, 4016,1.003, 4019.5,1.0, 4022,0.975, 4025,0.92, 4027.5,0.955, 4030,0.99, 4033,0.995, 4036,1.002, 4040,1.0, 4044,1.004, 4048,0.998, 4052,1.005, 4056,1.0, 4060,1.003, 4064,0.997, 4068,1.002, 4072,0.996, 4076,1.0, 4080,0.998, 4084,1.004, 4087,1.0, 4090,0.99, 4093,0.95, 4096,0.87, 4098.5,0.8, 4100.5,0.77, 4102.5,0.82, 4104.5,0.9, 4106,0.96, 4108,0.99, 4111,1.005, 4114,1.02, 4117,1.008, 4120,0.995, 4124,0.998, 4128,0.995, 4132,1.0, 4136,0.996, 4140,0.998, 4143,0.99, 4144,0.985, 4146,0.996, 4150,1.0, 4155,0.997, 4160,0.998, 4165,0.995, 4170,0.997, 4175,0.996, 4180,0.995, 4185,0.994, 4190,0.996, 4193,0.99, 4196,0.96, 4199.5,0.92, 4202,0.955, 4205,0.99, 4208,0.995, 4212,0.99, 4216,1.0, 4220,0.997, 4225,1.0, 4230,0.995, 4235,0.998, 4240,0.997, 4245,1.0, 4250,0.994, 4255,0.998, 4260,0.995, 4265,0.997, 4270,0.993, 4275,0.997, 4280,0.995, 4285,0.998, 4290,0.994, 4295,0.997, 4300,0.995, 4305,0.996, 4310,0.993, 4315,0.995, 4320,0.99, 4325,0.985, 4328,0.975, 4331,0.945, 4334,0.89, 4336.5,0.82, 4339,0.77, 4341.5,0.82, 4344,0.9, 4346.5,0.96, 4349,0.99, 4353,0.998, 4358,1.0, 4363,0.997, 4368,1.002, 4373,0.998, 4378,1.003, 4383,0.998, 4387,0.995, 4391,1.0, 4395,1.003, 4400,1.0, 4405,1.006, 4410,1.002, 4415,1.005, 4420,0.998, 4425,1.002, 4430,0.997, 4435,1.003, 4440,1.0, 4445,1.006, 4450,1.002, 4455,1.008, 4460,1.004, 4465,1.005, 4468,0.985, 4470.5,0.962, 4473,0.98, 4476,1.0, 4480,1.002, 4485,0.998, 4490,1.0, 4495,0.996, 4500,0.998, 4505,0.995, 4510,0.997, 4515,0.993, 4520,0.996, 4525,0.994, 4530,0.997, 4534,0.99, 4537,0.96, 4539,0.925, 4541,0.897, 4543,0.925, 4545.5,0.975, 4549,0.99, 4553,0.985, 4557,0.988, 4561,0.982, 4566,0.984, 4571,0.98, 4576,0.983, 4581,0.98, 4586,0.982, 4591,0.98, 4596,0.983, 4600,0.98, 4603,0.978, 4606,0.985, 4610,0.988, 4614,0.993, 4618,0.99, 4622,0.998, 4626,1.0, 4630,1.006, 4633,1.013, 4636,1.01, 4639,1.02, 4641,1.03, 4644,1.018, 4648,1.036, 4651,1.03, 4655,1.025, 4659,1.02, 4662,1.016, 4666,1.017, 4670,1.015, 4674,1.016, 4678,1.015, 4682,1.018, 4684,0.992, 4686,1.005, 4688,1.022, 4691,1.033, 4694,1.025, 4698,1.02, 4702,1.018, 4706,1.01, 4710,1.005, 4714,1.0, 4718,1.002, 4722,0.995, 4726,1.0, 4730,0.996, 4734,1.0, 4738,0.997, 4741,0.998];

const spectra = [aao333, st128, sk6547, brey73, av80, parker841, n1120, st232, st253, farina82];
// continuum level of each spectrum in the stacked plot
const offsets = [4.16, 3.76, 3.36, 2.96, 2.56, 2.16, 1.76, 1.36, 0.96, 0.56];

// labels; odd entries are superscripts
const starNames = [["AAΩ 30Dor 333"], ["ST 1−28"], ["Sk −65", "o", " 47"], ["Brey 73−2A"], ["AV 80"],
  ["Parker 841"], ["N11−20"], ["ST 2−32"], ["ST 2−53"], ["Fariña 82"]];
const spTypes = [["O2−3(n)f*p"], ["O3.5 Infp"], ["O4 I(n)f", "+", "p"], ["O4(n)(f)p"], ["O4−6n(f)p"],
  ["O4−6(n)(f)p"], ["O5 Inf", "+", "p"], ["O5n(f)p"], ["O5n(f)p"], ["O5n(f", "+", ")p"]];
const nameX = 4134;
const typeX = [4400, 4400, 4400, 4400, 4400, 4500, 4400, 4400, 4400, 4400];
const labelLift = [0.06, 0.06, 0.06, 0.06, 0.06, 0.08, 0.06, 0.06, 0.06, 0.06];

const heLines = [4026, 4144, 4200, 4388, 4471, 4542, 4686];
const heLabels = ["He I+II", "He I", "He II", "He I", "He I", "He II", "He II"];

const tickValues = [3950, 4000, 4050, 4100, 4150, 4200, 4250, 4300, 4350, 4400, 4450, 4500, 4550, 4600, 4650, 4700];
const tickLabels = { 4000: "4000", 4200: "4200", 4400: "4400", 4600: "4600" };

const INK = "#111";
const FONT = "'DejaVu Serif', 'Liberation Serif', serif";

function toPoints(flat, shift) {
  const pts = [];
  for (let i = 0; i < flat.length; i += 2) {
    const f = flat[i + 1];
    pts.push({ x: flat[i], y: f === null ? null : f + shift });
  }
  return pts;
}

function drawParts(ctx, parts, px, py, size) {
  let cx = px;
  parts.forEach((s, i) => {
    const sup = i % 2 === 1;
    ctx.font = `${sup ? Math.round(size * 0.62) : size}px ${FONT}`;
    ctx.fillText(s, cx, sup ? py - size * 0.42 : py);
    cx += ctx.measureText(s).width;
  });
}

const decor = {
  id: "decor",
  afterDatasetsDraw(chart) {
    const { ctx, chartArea: a, scales: { x, y } } = chart;
    ctx.save();
    ctx.strokeStyle = INK;
    ctx.fillStyle = INK;
    ctx.lineWidth = 1;

    // top and left frame
    ctx.beginPath();
    ctx.moveTo(a.left + 0.5, a.bottom);
    ctx.lineTo(a.left + 0.5, a.top + 0.5);
    ctx.lineTo(a.right, a.top + 0.5);
    ctx.stroke();

    // inward ticks, top and bottom
    x.ticks.forEach((t) => {
      const px = Math.round(x.getPixelForValue(t.value)) + 0.5;
      if (px < a.left + 2) return;
      const len = t.value % 200 === 0 ? 15 : 7;
      ctx.beginPath();
      ctx.moveTo(px, a.bottom);
      ctx.lineTo(px, a.bottom - len);
      ctx.moveTo(px, a.top);
      ctx.lineTo(px, a.top + len);
      ctx.stroke();
    });

    // star names and spectral types
    ctx.textBaseline = "alphabetic";
    ctx.textAlign = "left";
    spectra.forEach((_, i) => {
      const py = y.getPixelForValue(offsets[i] + labelLift[i]);
      drawParts(ctx, starNames[i], x.getPixelForValue(nameX), py, 24);
      drawParts(ctx, spTypes[i], x.getPixelForValue(typeX[i]), py, 24);
    });

    // line identifications
    ctx.font = `20px ${FONT}`;
    heLines.forEach((w, i) => {
      const px = Math.round(x.getPixelForValue(w)) + 0.5;
      const top = y.getPixelForValue(0.2);
      const bot = y.getPixelForValue(0.098);
      ctx.beginPath();
      ctx.moveTo(px, top);
      ctx.lineTo(px, bot);
      ctx.stroke();
      ctx.fillText(heLabels[i], px + 5, bot);
    });

    // 20% scale bar
    const bx = Math.round(x.getPixelForValue(4725.7)) + 0.5;
    const bTop = y.getPixelForValue(4.108);
    const bBot = y.getPixelForValue(3.908);
    ctx.beginPath();
    ctx.moveTo(bx, bTop); ctx.lineTo(bx, bBot);
    ctx.moveTo(bx - 8, bTop); ctx.lineTo(bx + 7, bTop);
    ctx.moveTo(bx - 8, bBot); ctx.lineTo(bx + 7, bBot);
    ctx.stroke();
    ctx.save();
    ctx.translate(bx - 17, (bTop + bBot) / 2);
    ctx.rotate(-Math.PI / 2);
    ctx.textAlign = "center";
    ctx.textBaseline = "middle";
    ctx.font = `22px ${FONT}`;
    ctx.fillText("20%", 0, 0);
    ctx.restore();

    // y axis title
    ctx.save();
    ctx.translate(23, (a.top + a.bottom) / 2);
    ctx.rotate(-Math.PI / 2);
    ctx.textAlign = "center";
    ctx.textBaseline = "middle";
    ctx.font = `25px ${FONT}`;
    ctx.fillText("Rectified Intensity", 0, 0);
    ctx.restore();

    ctx.restore();
  },
};

new Chart(document.getElementById("chart"), {
  type: "line",
  data: {
    datasets: spectra.map((s, i) => ({
      data: toPoints(s, offsets[i] - 1),
      borderColor: INK,
      borderWidth: 1.25,
      pointRadius: 0,
      tension: 0,
      fill: false,
      spanGaps: false,
    })),
  },
  options: {
    responsive: false,
    animation: false,
    events: [],
    layout: { padding: { left: 57, top: 13, right: 0, bottom: 0 } },
    plugins: { legend: { display: false }, tooltip: { enabled: false } },
    scales: {
      x: {
        type: "linear",
        min: 3949,
        max: 4741,
        afterBuildTicks: (axis) => { axis.ticks = tickValues.map((v) => ({ value: v })); },
        ticks: {
          autoSkip: false,
          maxRotation: 0,
          padding: 12,
          color: INK,
          font: { family: FONT, size: 25 },
          callback: (v) => tickLabels[v] || "",
        },
        grid: { display: true, drawOnChartArea: false, drawTicks: false },
        border: { display: true, color: INK, width: 1 },
        title: {
          display: true,
          text: "Wavelength (Å)",
          color: INK,
          font: { family: FONT, size: 24 },
          padding: { top: 4, bottom: 0 },
        },
      },
      y: { display: false, min: 0, max: 4.4 },
    },
  },
  plugins: [decor],
});
</script>
</body>
</html>
